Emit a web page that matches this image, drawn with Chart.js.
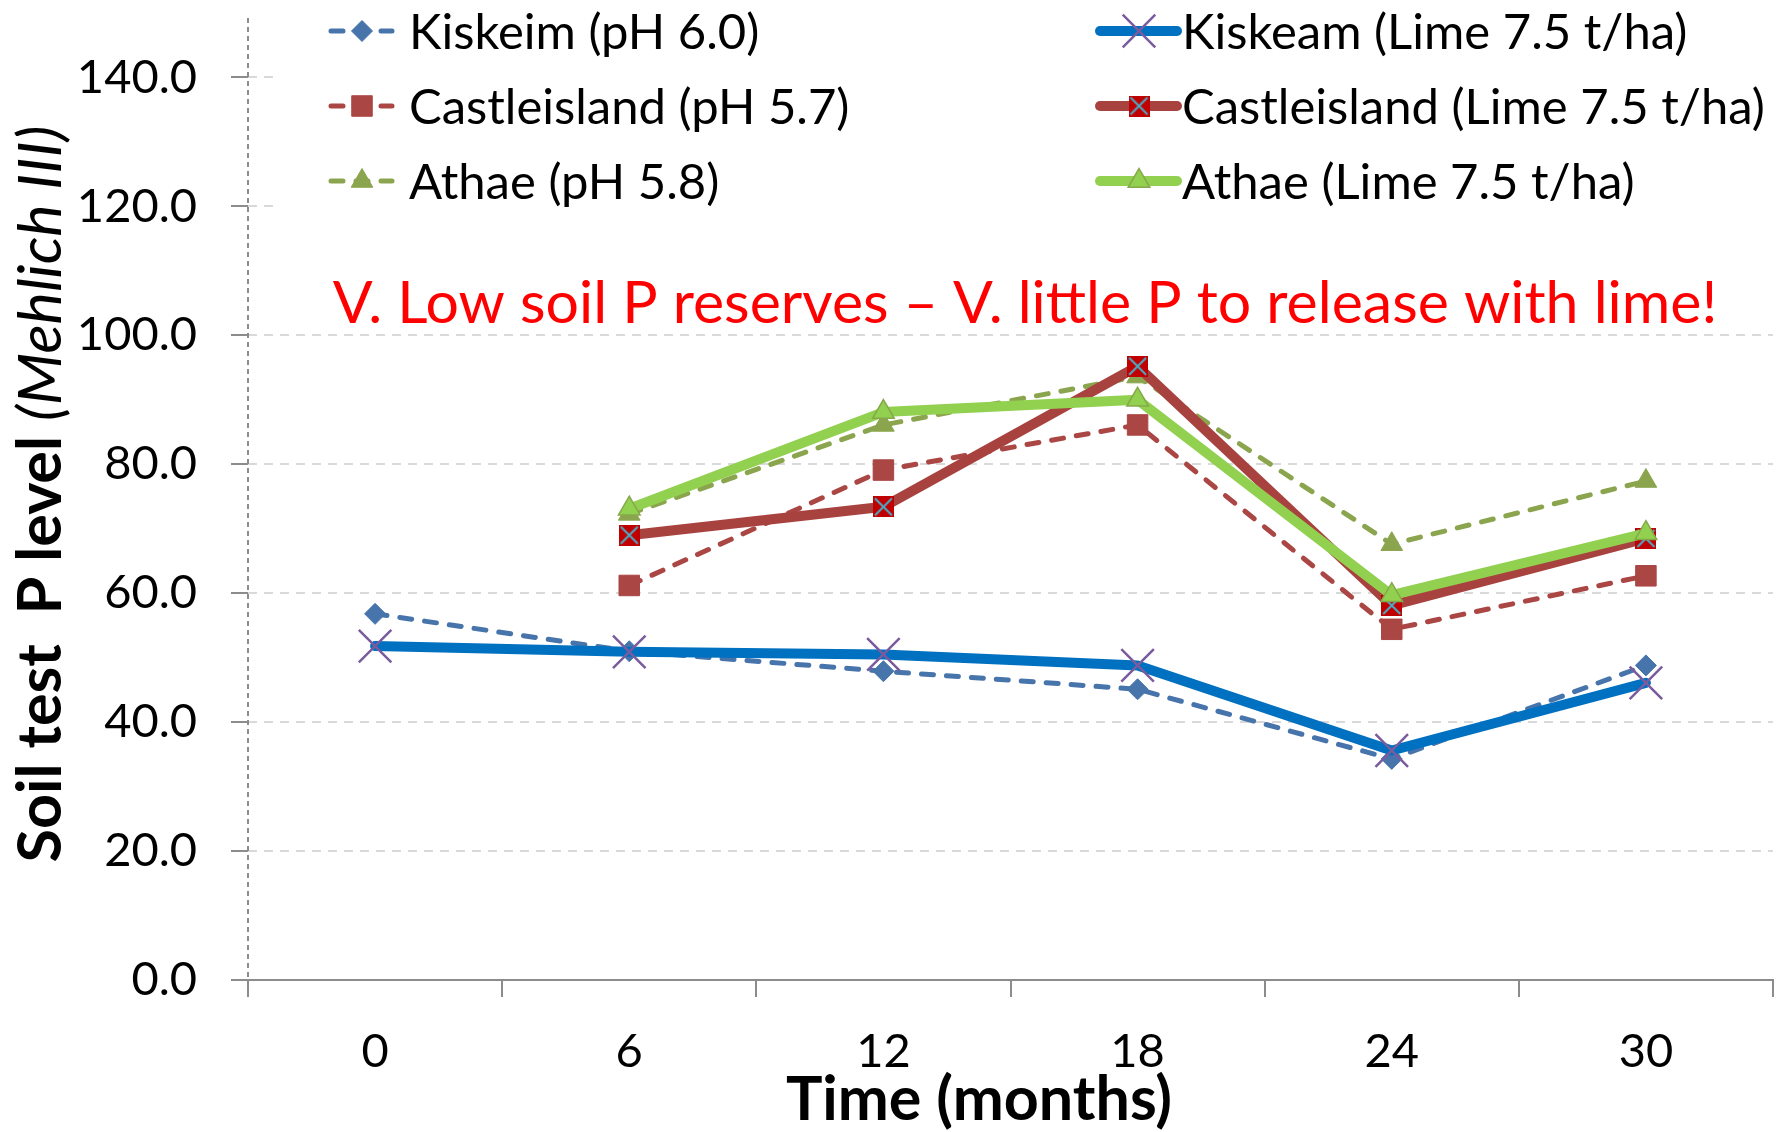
<!DOCTYPE html>
<html>
<head>
<meta charset="utf-8">
<script src="https://cdn.jsdelivr.net/npm/chart.js@4.4.0/dist/chart.umd.min.js"></script>
<style>
  html, body { margin: 0; padding: 0; background: #fff; }
  #wrap { width: 1790px; height: 1132px; }
</style>
</head>
<body>
<div id="wrap"><canvas id="soilChart" width="1790" height="1132"></canvas></div>
<script>
// data
const months = ['0', '6', '12', '18', '24', '30'];
const kiskeim = [56.8, 51.0, 47.9, 45.1, 34.3, 48.8];
const castleisland = [null, 61.2, 79.1, 86.1, 54.4, 62.7];
const athae = [null, 72.3, 86.1, 93.6, 67.6, 77.4];
const kiskeamLime = [51.8, 50.9, 50.5, 48.8, 35.6, 46.1];
const castleislandLime = [null, 69.0, 73.4, 95.2, 58.1, 68.5];
const athaeLime = [null, 73.1, 88.1, 90.0, 59.7, 69.3];
const yTicks = [0, 20, 40, 60, 80, 100, 120, 140];
const seriesNames = [
    'Kiskeim (pH 6.0)', 'Castleisland (pH 5.7)', 'Athae (pH 5.8)',
    'Kiskeam (Lime 7.5 t/ha)', 'Castleisland (Lime 7.5 t/ha)', 'Athae (Lime 7.5 t/ha)'
];
const yTitleBold = 'Soil test  P level ';
const yTitleItalic = '(Mehlich III)';
const xTitle = 'Time (months)';
const note = 'V. Low soil P reserves \u2013 V. little P to release with lime!';

const FONT = 'Lato, "Open Sans", sans-serif';
const FS = 47;        // tick labels
const LEG_FS = 49;    // legend
const NOTE_FS = 59;   // red note
const TITLE_FS = 61;  // axis titles

// red square with cyan cross
function crossSquare(size) {
    const c = document.createElement('canvas');
    c.width = size; c.height = size;
    const g = c.getContext('2d');
    g.fillStyle = '#C00000';
    g.fillRect(0, 0, size, size);
    g.strokeStyle = '#4BACC6';
    g.lineWidth = 2;
    g.beginPath();
    g.moveTo(2, 2); g.lineTo(size - 2, size - 2);
    g.moveTo(size - 2, 2); g.lineTo(2, size - 2);
    g.stroke();
    return c;
}
const redCross = crossSquare(21);

const dashed = { borderWidth: 5, borderDash: [12, 13], borderCapStyle: 'round', borderJoinStyle: 'round' };
const solid = { borderWidth: 10, borderCapStyle: 'round', borderJoinStyle: 'round' };

const datasets = [
    Object.assign({ data: kiskeim, borderColor: '#4674AB', pointStyle: 'rectRot', pointRadius: 10.5,
        pointBackgroundColor: '#4674AB', pointBorderColor: '#4674AB', pointBorderWidth: 1 }, dashed),
    Object.assign({ data: castleisland, borderColor: '#AA4643', pointStyle: 'rect', pointRadius: 14.5,
        pointBackgroundColor: '#AA4643', pointBorderColor: '#AA4643', pointBorderWidth: 1 }, dashed),
    Object.assign({ data: athae, borderColor: '#8BA54E', pointStyle: 'triangle', pointRadius: 12.5,
        pointBackgroundColor: '#8BA54E', pointBorderColor: '#8BA54E', pointBorderWidth: 1 }, dashed),
    Object.assign({ data: kiskeamLime, borderColor: '#0070C0', pointStyle: 'crossRot', pointRadius: 23,
        pointBackgroundColor: '#7A5C9E', pointBorderColor: '#7A5C9E', pointBorderWidth: 2.5 }, solid),
    Object.assign({ data: castleislandLime, borderColor: '#A8423F', pointStyle: redCross, pointRadius: 11,
        pointBackgroundColor: '#C00000', pointBorderColor: '#C00000', pointBorderWidth: 0 }, solid),
    Object.assign({ data: athaeLime, borderColor: '#92D050', pointStyle: 'triangle', pointRadius: 12.5,
        pointBackgroundColor: '#92D050', pointBorderColor: '#86A84A', pointBorderWidth: 1.5 }, solid)
];
datasets.forEach((ds, i) => {
    ds.label = seriesNames[i];
    ds.order = 10 - i;   // later series on top, like Excel
    ds.tension = 0;
    ds.pointHoverRadius = ds.pointRadius;
});

// own marker drawing for the legend
function drawMarker(ctx, ds, x, y) {
    const st = ds.pointStyle, r = ds.pointRadius;
    ctx.save();
    ctx.setLineDash([]);
    ctx.fillStyle = ds.pointBackgroundColor;
    ctx.strokeStyle = ds.pointBorderColor;
    ctx.lineWidth = ds.pointBorderWidth;
    if (typeof st === 'object') {
        ctx.drawImage(st, x - st.width / 2, y - st.height / 2);
        ctx.restore();
        return;
    }
    ctx.beginPath();
    if (st === 'rectRot') {
        ctx.moveTo(x, y - r); ctx.lineTo(x + r, y); ctx.lineTo(x, y + r); ctx.lineTo(x - r, y);
        ctx.closePath();
    } else if (st === 'rect') {
        const s = r * Math.SQRT1_2;
        ctx.rect(x - s, y - s, 2 * s, 2 * s);
    } else if (st === 'triangle') {
        ctx.moveTo(x, y - r);
        ctx.lineTo(x + r * Math.cos(Math.PI / 6), y + r / 2);
        ctx.lineTo(x - r * Math.cos(Math.PI / 6), y + r / 2);
        ctx.closePath();
    } else if (st === 'crossRot') {
        const d = r * Math.SQRT1_2;
        ctx.moveTo(x - d, y - d); ctx.lineTo(x + d, y + d);
        ctx.moveTo(x + d, y - d); ctx.lineTo(x - d, y + d);
    }
    if (st !== 'crossRot') ctx.fill();
    if (ds.pointBorderWidth > 0) ctx.stroke();
    ctx.restore();
}

const decorPlugin = {
    id: 'decor',
    beforeDatasetsDraw(chart) {
        // dashed y axis line
        const { ctx, chartArea } = chart;
        ctx.save();
        ctx.strokeStyle = '#8C8C8C';
        ctx.lineWidth = 2;
        ctx.setLineDash([5, 4]);
        ctx.beginPath();
        ctx.moveTo(chartArea.left, chartArea.top + 5);
        ctx.lineTo(chartArea.left, chartArea.bottom);
        ctx.stroke();
        ctx.restore();
    },
    afterDraw(chart) {
        const ctx = chart.ctx;
        ctx.save();

        // legend box in the plot
        ctx.fillStyle = '#fff';
        ctx.fillRect(275, 0, 1515, 222);
        const rowsY = [31, 106, 181];
        const cols = [
            { x0: 331, x1: 392, mx: 362, tx: 409 },
            { x0: 1100, x1: 1177, mx: 1139, tx: 1182 }
        ];
        ctx.font = LEG_FS + 'px ' + FONT;
        ctx.textBaseline = 'middle';
        ctx.textAlign = 'left';
        chart.data.datasets.forEach((ds, i) => {
            const col = cols[i < 3 ? 0 : 1];
            const y = rowsY[i % 3];
            ctx.save();
            ctx.strokeStyle = ds.borderColor;
            ctx.lineWidth = i < 3 ? 5 : 10;
            ctx.lineCap = 'round';
            ctx.setLineDash(i < 3 ? [12, 13] : []);
            ctx.beginPath();
            ctx.moveTo(col.x0, y);
            ctx.lineTo(col.x1, y);
            ctx.stroke();
            ctx.restore();
            drawMarker(ctx, ds, col.mx, y);
            ctx.fillStyle = '#000';
            ctx.fillText(ds.label, col.tx, y + 2);
        });

        // red note
        ctx.fillStyle = '#FF0000';
        ctx.textAlign = 'center';
        ctx.font = NOTE_FS + 'px ' + FONT;
        ctx.fillText(note, 1025, 304);

        // x title
        ctx.fillStyle = '#000';
        ctx.font = 'bold ' + TITLE_FS + 'px ' + FONT;
        ctx.fillText(xTitle, 979, 1100);

        // y title, bold + italic
        const boldFont = 'bold ' + TITLE_FS + 'px ' + FONT;
        const italFont = 'italic ' + TITLE_FS + 'px ' + FONT;
        ctx.font = boldFont;
        const w1 = ctx.measureText(yTitleBold).width;
        ctx.font = italFont;
        const w2 = ctx.measureText(yTitleItalic).width;
        ctx.translate(41, 494);
        ctx.rotate(-Math.PI / 2);
        ctx.textAlign = 'left';
        ctx.font = boldFont;
        ctx.fillText(yTitleBold, -(w1 + w2) / 2, 0);
        ctx.font = italFont;
        ctx.fillText(yTitleItalic, -(w1 + w2) / 2 + w1, 0);
        ctx.restore();
    }
};

new Chart(document.getElementById('soilChart'), {
    type: 'line',
    data: { labels: months, datasets: datasets },
    plugins: [decorPlugin],
    options: {
        responsive: false,
        animation: false,
        events: [],
        layout: { autoPadding: false, padding: { top: 13, right: 17, left: 0, bottom: 0 } },
        plugins: { legend: { display: false }, tooltip: { enabled: false } },
        scales: {
            x: {
                offset: true,
                grid: { offset: true, drawOnChartArea: false, tickLength: 17, color: '#8C8C8C', lineWidth: 2 },
                border: { display: true, color: '#8C8C8C', width: 2 },
                ticks: { color: '#000', font: { family: FONT, size: FS }, padding: 27, maxRotation: 0 },
                afterFit(scale) {
                    scale.height = 152;
                    scale.paddingLeft = 0;
                    scale.paddingRight = 0;
                }
            },
            y: {
                min: 0,
                max: 150,
                afterBuildTicks(scale) { scale.ticks = yTicks.map(v => ({ value: v })); },
                grid: { color: '#D9D9D9', lineWidth: 2, tickColor: '#8C8C8C', tickLength: 17 },
                border: { display: false, dash: [9, 7] },
                ticks: {
                    color: '#000', font: { family: FONT, size: FS }, padding: 34,
                    callback: v => Number(v).toFixed(1)
                },
                afterFit(scale) {
                    scale.width = 248;
                    scale.paddingTop = 0;
                    scale.paddingBottom = 0;
                }
            }
        }
    }
});
</script>
</body>
</html>
